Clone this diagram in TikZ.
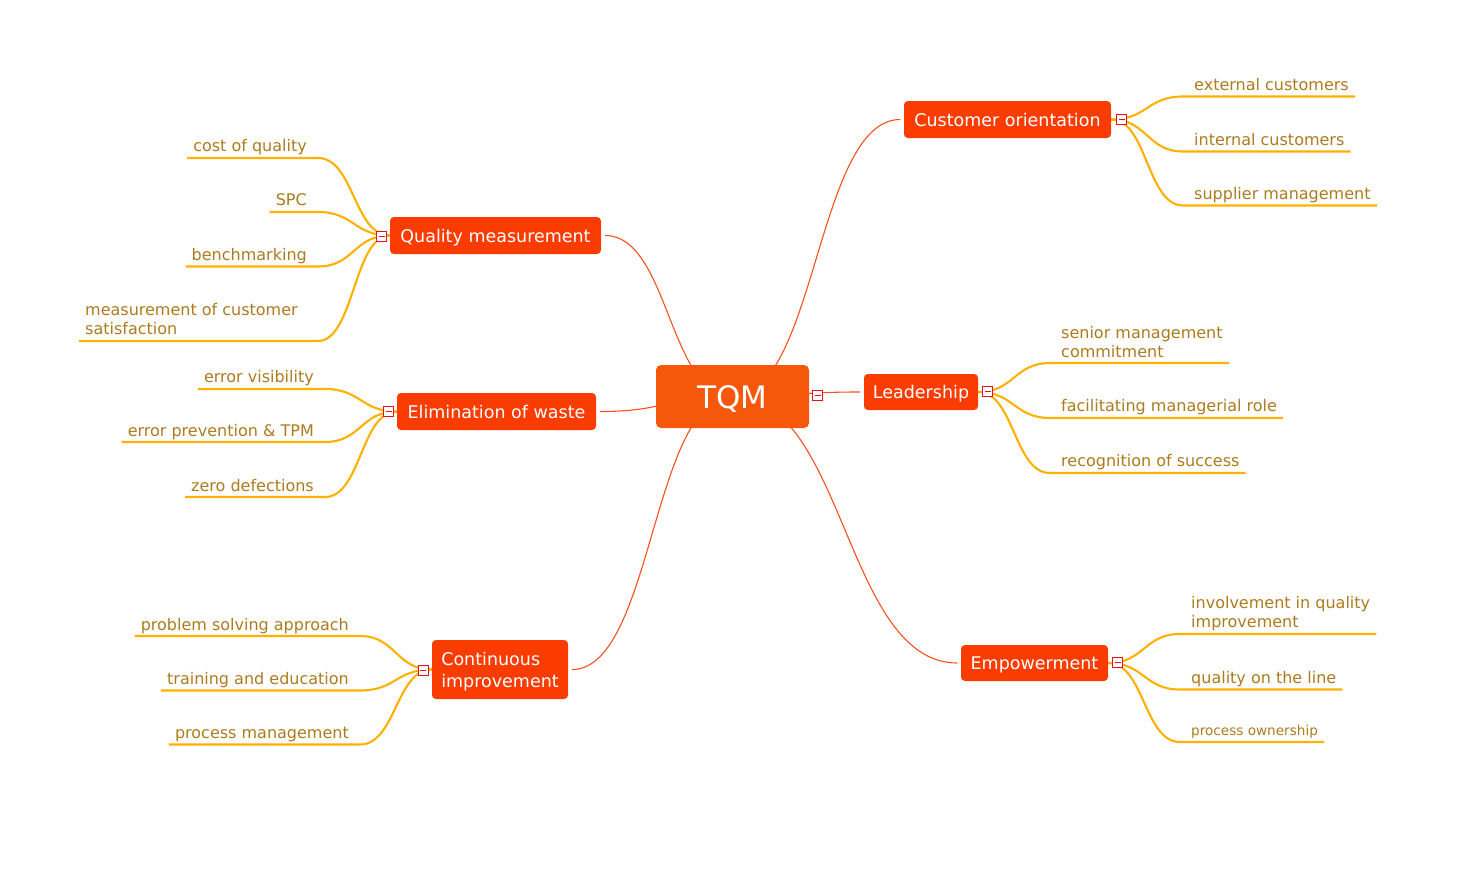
\documentclass[tikz,border=0pt]{standalone}
\usepackage{fontspec}
\setmainfont{DejaVu Sans}
\usetikzlibrary{calc,backgrounds}
\definecolor{tqmfill}{HTML}{F5580A}
\definecolor{brfill}{HTML}{FA3C00}
\definecolor{mainline}{HTML}{F4511E}
\definecolor{leafline}{HTML}{FFB000}
\definecolor{leaftext}{HTML}{AD7B1E}
\definecolor{boxred}{HTML}{E8101E}
\begin{document}
\begin{tikzpicture}[x=1pt,y=-1pt,
  sig/.style={to path={let \p1=(\tikztostart), \p2=(\tikztotarget) in
     .. controls ({(\x1+\x2)/2},\y1) and ({(\x1+\x2)/2},\y2) .. (\tikztotarget)}},
  root/.style={fill=tqmfill, text=white, rounded corners=5pt, minimum width=153pt,
     minimum height=63pt, inner sep=0pt, text depth=0pt, font=\fontsize{31}{36}\selectfont},
  branch/.style={fill=brfill, text=white, rounded corners=4pt, inner sep=0pt, text depth=0pt,
     font=\fontsize{17.5}{21.7}\selectfont, align=left},
  leaf/.style={text=leaftext, font=\fontsize{16}{19}\selectfont, inner xsep=6pt,
     inner ysep=2pt, align=left},
  smallleaf/.style={leaf, font=\fontsize{13.6}{16}\selectfont},
  cbox/.style={draw=boxred, fill=white, line width=0.9pt, minimum size=10pt, inner sep=0pt,
     path picture={\draw[boxred, line width=0.9pt]
       ([xshift=-3pt]path picture bounding box.center) -- ([xshift=3pt]path picture bounding box.center);}},
  mainconn/.style={draw=mainline, line width=1.1pt},
  leafconn/.style={draw=leafline, line width=2.1pt},
]
\useasboundingbox (0,0) rectangle (1471,894);

% root and branches
\node[root] (TQM) at (732.5,396.5) {TQM};
\node[branch, minimum width=211pt, minimum height=37pt] (QM) at (495.5,235.5) {Quality measurement};
\node[branch, minimum width=199pt, minimum height=37pt] (EW) at (496.5,411.5) {Elimination of waste};
\node[branch, minimum width=136pt, minimum height=59pt] (CI) at (500,669.5) {Continuous\\improvement};
\node[branch, minimum width=114pt, minimum height=36pt] (L) at (921,392) {Leadership};
\node[branch, minimum width=207pt, minimum height=37pt] (CO) at (1007.5,119.5) {Customer orientation};
\node[branch, minimum width=147pt, minimum height=36pt] (E) at (1034.5,663) {Empowerment};

% collapse boxes
\node[cbox] (bTQM) at (817.5,395) {};
\node[cbox] (bCO) at (1121.5,119.5) {};
\node[cbox] (bL) at (987.5,391.5) {};
\node[cbox] (bE) at (1117.5,662.5) {};
\node[cbox] (bQM) at (381.5,236) {};
\node[cbox] (bEW) at (388.5,411.5) {};
\node[cbox] (bCI) at (423,670) {};

% leaves: Customer orientation
\node[leaf, anchor=base west] (l11) at (1188,90) {external customers};
\node[leaf, anchor=base west] (l12) at (1188,145) {internal customers};
\node[leaf, anchor=base west] (l13) at (1188,199.5) {supplier management};
\coordinate (u11) at (1183,96.5);
\coordinate (u12) at (1183,151.5);
\coordinate (u13) at (1183,205.5);
% leaves: Leadership
\node[leaf, anchor=base west] (l21) at (1055,357) {senior management\\commitment};
\node[leaf, anchor=base west] (l22) at (1055,411) {facilitating managerial role};
\node[leaf, anchor=base west] (l23) at (1055,466) {recognition of success};
\coordinate (u21) at (1050,363);
\coordinate (u22) at (1050,418);
\coordinate (u23) at (1050,473);
% leaves: Empowerment
\node[leaf, anchor=base west] (l31) at (1185,627) {involvement in quality\\improvement};
\node[leaf, anchor=base west] (l32) at (1185,683) {quality on the line};
\node[smallleaf, anchor=base west] (l33) at (1185,735.5) {process ownership};
\coordinate (u31) at (1180,634);
\coordinate (u32) at (1180,689.5);
\coordinate (u33) at (1180,742);
% leaves: Quality measurement
\node[leaf, anchor=base east] (l41) at (313,151) {cost of quality};
\node[leaf, anchor=base east] (l42) at (313,205.5) {SPC};
\node[leaf, anchor=base east] (l43) at (313,260) {benchmarking};
\node[leaf, anchor=base west] (l44) at (79,334) {measurement of customer\\satisfaction};
\coordinate (u41) at (318,158);
\coordinate (u42) at (318,212);
\coordinate (u43) at (318,266.5);
\coordinate (u44) at (318,341);
% leaves: Elimination of waste
\node[leaf, anchor=base east] (l51) at (320,382) {error visibility};
\node[leaf, anchor=base east] (l52) at (320,436) {error prevention \& TPM};
\node[leaf, anchor=base east] (l53) at (320,491) {zero defections};
\coordinate (u51) at (325,389);
\coordinate (u52) at (325,442);
\coordinate (u53) at (325,497);
% leaves: Continuous improvement
\node[leaf, anchor=base east] (l61) at (355,630) {problem solving approach};
\node[leaf, anchor=base east] (l62) at (355,684.5) {training and education};
\node[leaf, anchor=base east] (l63) at (355,738) {process management};
\coordinate (u61) at (360,636);
\coordinate (u62) at (360,690.5);
\coordinate (u63) at (360,744.5);

% connector end points (small gap before branch boxes)
\coordinate (eQM) at ([xshift=4pt]QM.east);
\coordinate (eEW) at ([xshift=4pt]EW.east);
\coordinate (eCI) at ([xshift=4pt]CI.east);
\coordinate (eL) at ([xshift=-4pt]L.west);
\coordinate (eCO) at ([xshift=-3.5pt]CO.west);
\coordinate (eE) at ([xshift=-3.5pt]E.west);

\begin{pgfonlayer}{background}
  \draw[mainconn] (TQM.center) to[sig] (eQM);
  \draw[mainconn] (TQM.center) to[sig] (eEW);
  \draw[mainconn] (TQM.center) to[sig] (eCI);
  \draw[mainconn] (TQM.center) to[sig] (eL);
  \draw[mainconn] (TQM.center) to[sig] (eCO);
  \draw[mainconn] (TQM.center) to[sig] (eE);

  \draw[leafconn] (CO.east) to[sig] (u11) -- (u11 -| l11.east);
  \draw[leafconn] (CO.east) to[sig] (u12) -- (u12 -| l12.east);
  \draw[leafconn] (CO.east) to[sig] (u13) -- (u13 -| l13.east);
  \draw[leafconn] (L.east) to[sig] (u21) -- (u21 -| l21.east);
  \draw[leafconn] (L.east) to[sig] (u22) -- (u22 -| l22.east);
  \draw[leafconn] (L.east) to[sig] (u23) -- (u23 -| l23.east);
  \draw[leafconn] (E.east) to[sig] (u31) -- (u31 -| l31.east);
  \draw[leafconn] (E.east) to[sig] (u32) -- (u32 -| l32.east);
  \draw[leafconn] (E.east) to[sig] (u33) -- (u33 -| l33.east);
  \draw[leafconn] (QM.west) to[sig] (u41) -- (u41 -| l41.west);
  \draw[leafconn] (QM.west) to[sig] (u42) -- (u42 -| l42.west);
  \draw[leafconn] (QM.west) to[sig] (u43) -- (u43 -| l43.west);
  \draw[leafconn] (QM.west) to[sig] (u44) -- (u44 -| l44.west);
  \draw[leafconn] (EW.west) to[sig] (u51) -- (u51 -| l51.west);
  \draw[leafconn] (EW.west) to[sig] (u52) -- (u52 -| l52.west);
  \draw[leafconn] (EW.west) to[sig] (u53) -- (u53 -| l53.west);
  \draw[leafconn] (CI.west) to[sig] (u61) -- (u61 -| l61.west);
  \draw[leafconn] (CI.west) to[sig] (u62) -- (u62 -| l62.west);
  \draw[leafconn] (CI.west) to[sig] (u63) -- (u63 -| l63.west);
\end{pgfonlayer}
\end{tikzpicture}
\end{document}
